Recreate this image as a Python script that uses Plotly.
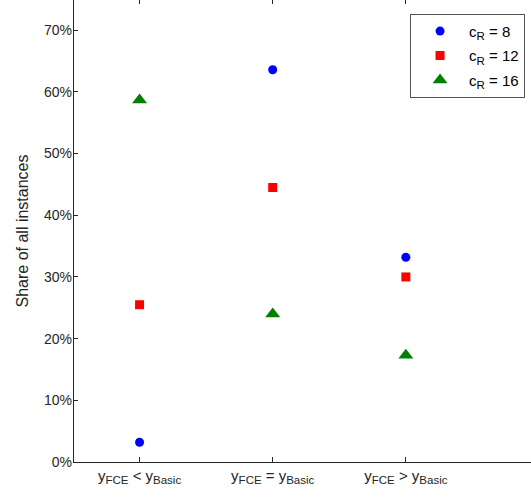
import plotly.graph_objects as go

categories = ["FCE < Basic", "FCE = Basic", "FCE > Basic"]
positions = [0.5, 1.5, 2.5]
SUB = "<sub><span style='font-size:11.5px'>{}</span></sub>"
tick_labels = ["y" + SUB.format("FCE") + " &lt; y" + SUB.format("Basic"),
               "y" + SUB.format("FCE") + " = y" + SUB.format("Basic"),
               "y" + SUB.format("FCE") + " &gt; y" + SUB.format("Basic")]
series_names = ["c" + SUB.format("R") + " = 8",
                "c" + SUB.format("R") + " = 12",
                "c" + SUB.format("R") + " = 16"]
share_c8 = [0.032, 0.636, 0.332]
share_c12 = [0.255, 0.445, 0.300]
share_c16 = [0.587, 0.240, 0.173]
y_ticks = [0, 0.1, 0.2, 0.3, 0.4, 0.5, 0.6, 0.7]
y_tick_labels = ["0%", "10%", "20%", "30%", "40%", "50%", "60%", "70%"]

FONT = "Liberation Sans, Arial, Helvetica, sans-serif"
AX = "#262626"

fig = go.Figure()
styles = [("circle", "blue", 9), ("square", "red", 9), ("triangle-up", "green", 13)]
for i, (name, vals, (sym, col, sz)) in enumerate(zip(series_names, [share_c8, share_c12, share_c16], styles)):
    fig.add_trace(go.Scatter(x=positions, y=vals, mode="markers", name=name,
                             legendgroup=f"g{i}", customdata=categories,
                             marker=dict(symbol=sym, color=col, size=sz, line=dict(width=0))))

# invisible trace so the top tick axis is drawn
fig.add_trace(go.Scatter(x=positions, y=share_c8, xaxis="x2", mode="markers",
                         marker=dict(opacity=0), showlegend=False, hoverinfo="skip"))

XR = [0, 3.44]
fig.update_layout(
    template="none",
    width=531, height=503,
    margin=dict(l=73, r=0, t=0, b=41),
    paper_bgcolor="white", plot_bgcolor="white",
    font=dict(family=FONT, size=14, color=AX),
    showlegend=True,
    legend=dict(x=0.987, y=0.97, xanchor="right", yanchor="top",
                bgcolor="white", bordercolor="#555", borderwidth=1,
                font=dict(family=FONT, size=15, color="black"),
                itemwidth=48, tracegroupgap=2),
    xaxis=dict(range=XR, tickvals=positions, ticktext=tick_labels,
               showline=True, mirror=False, linecolor=AX, linewidth=1, ticks="inside",
               ticklen=5, tickcolor=AX, showgrid=False,
               zeroline=True, zerolinecolor=AX, zerolinewidth=1,
               tickfont=dict(family=FONT, size=15, color=AX)),
    xaxis2=dict(range=XR, tickvals=positions, overlaying="x", side="top",
                anchor="y", showline=False, mirror=False, ticks="inside", ticklen=4,
                tickcolor=AX, showticklabels=False, showgrid=False, zeroline=False),
    yaxis=dict(range=[0, 0.749], tickvals=y_ticks, ticktext=y_tick_labels,
               showline=False, mirror=False, ticks="inside",
               ticklen=5, tickcolor=AX, showgrid=False, zeroline=False,
               tickfont=dict(family=FONT, size=14, color=AX),
               title=dict(text="Share of all instances", standoff=11,
                          font=dict(family=FONT, size=16, color=AX))),
)

fig.write_html("out.html", config={"displayModeBar": False})
